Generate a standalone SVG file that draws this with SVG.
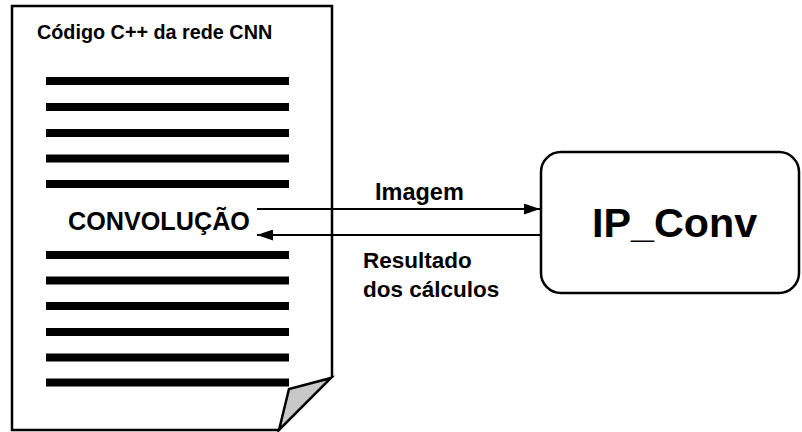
<svg xmlns="http://www.w3.org/2000/svg" width="802" height="432" viewBox="0 0 802 432">
<defs>
<style>
text{font-family:"Liberation Sans",Arial,sans-serif;font-weight:bold;fill:#000}
.bar{stroke:#000;stroke-width:8;stroke-linecap:butt}
.edge{fill:none;stroke:#000;stroke-width:2}
</style>
<marker id="ah" markerWidth="16" markerHeight="11" refX="16" refY="5.5" orient="auto" markerUnits="userSpaceOnUse">
<path d="M0,0 L16,5.5 L0,11 Z" fill="#000"/>
</marker>
</defs>
<rect width="802" height="432" fill="#fff"/>
<g id="document">
<path d="M332,378 L332,6 L12,6 L12,430 L279,430" fill="#fff" stroke="#000" stroke-width="2.5"/>
<polygon points="279,430 289,389 331,378" fill="#c8c8c8" stroke="#000" stroke-width="2.5" stroke-linejoin="miter"/>
<text x="37" y="39" font-size="19.8">Código C++ da rede CNN</text>
<g>
<line class="bar" x1="46" y1="81" x2="289" y2="81"/>
<line class="bar" x1="46" y1="107" x2="289" y2="107"/>
<line class="bar" x1="46" y1="133" x2="289" y2="133"/>
<line class="bar" x1="46" y1="158.5" x2="289" y2="158.5"/>
<line class="bar" x1="46" y1="184" x2="289" y2="184"/>
<line class="bar" x1="46" y1="255" x2="289" y2="255"/>
<line class="bar" x1="46" y1="280.5" x2="289" y2="280.5"/>
<line class="bar" x1="46" y1="306" x2="289" y2="306"/>
<line class="bar" x1="46" y1="332" x2="289" y2="332"/>
<line class="bar" x1="46" y1="357.5" x2="289" y2="357.5"/>
<line class="bar" x1="46" y1="382.5" x2="289" y2="382.5"/>
</g>
<text x="68" y="230" font-size="25.2">CONVOLUÇÃO</text>
</g>
<g id="ip_conv">
<rect x="541" y="152" width="258" height="141" rx="20" ry="20" fill="#fff" stroke="#000" stroke-width="2.5"/>
<text x="592" y="237" font-size="41.3">IP_Conv</text>
</g>
<g id="connectors">
<line class="edge" x1="257" y1="209" x2="540" y2="209" marker-end="url(#ah)"/>
<line class="edge" x1="541" y1="235" x2="257" y2="235" marker-end="url(#ah)"/>
<text x="375" y="200" font-size="23.5">Imagem</text>
<text x="363" y="268" font-size="22.5">Resultado</text>
<text x="363" y="297" font-size="22.5">dos cálculos</text>
</g>
</svg>
